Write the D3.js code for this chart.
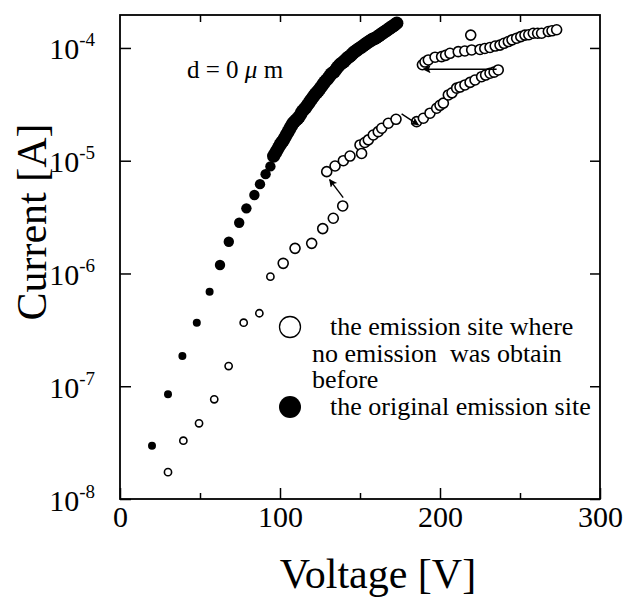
<!DOCTYPE html>
<html>
<head>
<meta charset="utf-8">
<style>
    body { margin: 0; background: #fff; }
    text { font-family: "Liberation Serif", "Times New Roman", serif; fill: #000; }
</style>
</head>
<body>
<script src="https://d3js.org/d3.v7.min.js"></script>
<script>
    const W = 626, H = 598;
    const margin = {left: 120, top: 15, right: 26, bottom: 99};

    // Voltage [V], Current [A]
    const filledSparse = [[20, 2.97e-8], [30, 8.5e-8], [39, 1.85e-7], [48, 3.66e-7], [56, 6.9e-7],
        [62.5, 1.19e-6], [68, 1.91e-6], [74.5, 2.82e-6], [79, 3.78e-6], [84, 4.97e-6],
        [87.5, 6.2e-6], [91, 7.6e-6], [94, 8.9e-6]];
    const filledDense = [[96, 1.10e-5], [98, 1.23e-5], [100, 1.38e-5], [102, 1.51e-5], [104, 1.70e-5],
        [106, 1.91e-5], [108, 2.14e-5], [110, 2.29e-5], [112, 2.45e-5], [114, 2.75e-5],
        [116, 2.95e-5], [118, 3.24e-5], [120, 3.55e-5], [122, 3.89e-5], [124, 4.17e-5],
        [126, 4.57e-5], [128, 5.01e-5], [130, 5.37e-5], [132, 5.89e-5], [134, 6.17e-5],
        [136, 6.76e-5], [138, 7.24e-5], [140, 7.59e-5], [142, 8.13e-5], [144, 8.51e-5],
        [146, 9.12e-5], [148, 9.55e-5], [150, 1.00e-4], [152, 1.05e-4], [154, 1.10e-4],
        [156, 1.15e-4], [158, 1.20e-4], [160, 1.23e-4], [162, 1.29e-4], [164, 1.35e-4],
        [166, 1.41e-4], [168, 1.48e-4], [170, 1.55e-4], [172, 1.62e-4], [173, 1.66e-4]];
    const filledDense2 = [[97, 1.16e-5], [99, 1.30e-5], [101, 1.45e-5], [103, 1.60e-5], [105, 1.80e-5],
        [107, 2.02e-5], [109, 2.22e-5], [111, 2.37e-5], [113, 2.60e-5], [115, 2.85e-5],
        [117, 3.10e-5], [119, 3.40e-5], [121, 3.72e-5], [123, 4.03e-5], [125, 4.37e-5],
        [127, 4.79e-5], [129, 5.19e-5], [131, 5.62e-5], [133, 6.03e-5], [135, 6.46e-5],
        [137, 7.0e-5], [139, 7.41e-5], [141, 7.86e-5], [143, 8.32e-5], [145, 8.8e-5],
        [147, 9.33e-5], [149, 9.77e-5], [151, 1.02e-4], [153, 1.07e-4], [155, 1.12e-4],
        [157, 1.17e-4], [159, 1.21e-4], [161, 1.26e-4], [163, 1.32e-4], [165, 1.38e-4],
        [167, 1.44e-4], [169, 1.51e-4], [171, 1.58e-4]];

    const openLow = [[30, 1.73e-8], [39.6, 3.29e-8], [49.4, 4.69e-8], [58.9, 7.66e-8], [67.9, 1.51e-7],
        [77.3, 3.66e-7], [87.1, 4.44e-7], [94, 9.37e-7], [102, 1.23e-6], [109.4, 1.67e-6],
        [119.8, 1.85e-6], [126.7, 2.5e-6], [133.3, 3.09e-6], [139.2, 3.97e-6]];
    const openJump = [[129.2, 8.0e-6], [134.4, 8.98e-6], [139.6, 1.0e-5], [143.75, 1.10e-5],
        [150, 1.38e-5], [151, 1.16e-5], [153, 1.45e-5], [155.2, 1.53e-5], [158.3, 1.69e-5],
        [161.4, 1.81e-5], [163.6, 1.94e-5], [167.7, 2.15e-5], [172.5, 2.33e-5]];
    const openMid = [[185.4, 2.22e-5], [189.6, 2.38e-5], [193.75, 2.64e-5], [197.9, 2.92e-5],
        [200, 3.1e-5], [202.1, 3.24e-5], [205.2, 3.83e-5], [207.5, 4.0e-5], [210.4, 4.4e-5],
        [212.5, 4.5e-5], [215.6, 4.7e-5], [218.8, 4.95e-5], [221.9, 5.2e-5], [226, 5.56e-5],
        [228.5, 5.75e-5], [231.25, 5.97e-5], [233.8, 6.1e-5], [236.4, 6.38e-5]];
    const openUpper = [[189, 7.1e-5], [190.6, 7.5e-5], [192.7, 7.83e-5], [196.9, 8.28e-5],
        [201, 8.37e-5], [203.5, 8.6e-5], [206.25, 8.97e-5], [211.4, 9.27e-5], [215.5, 9.4e-5],
        [219.8, 9.6e-5], [225, 9.7e-5], [228, 9.9e-5], [231.25, 1.01e-4], [234.5, 1.04e-4],
        [237.5, 1.06e-4], [240, 1.1e-4], [242.7, 1.14e-4], [245, 1.18e-4], [247.9, 1.22e-4],
        [250.5, 1.26e-4], [253.1, 1.30e-4], [255.5, 1.31e-4], [258.3, 1.35e-4], [261, 1.35e-4],
        [263.5, 1.35e-4], [267.7, 1.40e-4], [270, 1.42e-4], [272.9, 1.45e-4], [219.2, 1.30e-4]];

    const arrows = [
        {from: [139.5, 4.7e-6], to: [131, 6.8e-6]},
        {from: [176, 2.6e-5], to: [186.5, 2.08e-5]},
        {from: [235.4, 6.47e-5], to: [189.6, 6.47e-5]}
    ];

    const xMajor = [0, 100, 200, 300];
    const xMinor = [50, 150, 250];
    const yTicks = [1e-8, 1e-7, 1e-6, 1e-5, 1e-4];
    const yExp = ["-8", "-7", "-6", "-5", "-4"];
    const legendOpen = ["the emission site where", "no emission  was obtain", "before"];
    const legendFilled = "the original emission site";

    const svg = d3.select("body").append("svg").attr("width", W).attr("height", H);

    const x = d3.scaleLinear().domain([0, 300]).range([margin.left, W - margin.right]);
    const y = d3.scaleLog().domain([1e-8, 1.96e-4]).range([H - margin.bottom, margin.top]);

    // arrow head
    svg.append("defs").append("marker")
        .attr("id", "head").attr("viewBox", "0 0 10 10")
        .attr("refX", 9).attr("refY", 5)
        .attr("markerWidth", 12).attr("markerHeight", 8)
        .attr("markerUnits", "userSpaceOnUse")
        .attr("orient", "auto")
        .append("path").attr("d", "M0,0 L10,5 L0,10 L2,5 Z").attr("fill", "#000");

    // axes, ticks inward
    const bottom = svg.append("g").attr("transform", `translate(0,${y.range()[0]})`);
    bottom.call(d3.axisBottom(x).tickValues(xMajor).tickSize(-11).tickSizeOuter(0).tickPadding(7));
    bottom.append("g").call(d3.axisBottom(x).tickValues(xMinor).tickSize(-6).tickSizeOuter(0).tickFormat(""));
    svg.append("g").attr("transform", `translate(0,${margin.top})`)
        .call(d3.axisTop(x).tickValues(xMinor.concat([100, 200])).tickSize(-7).tickSizeOuter(0).tickFormat(""));
    const left = svg.append("g").attr("transform", `translate(${margin.left},0)`)
        .call(d3.axisLeft(y).tickValues(yTicks).tickSize(-11).tickSizeOuter(0).tickPadding(25));
    svg.append("g").attr("transform", `translate(${W - margin.right},0)`)
        .call(d3.axisRight(y).tickValues(yTicks).tickSize(-10).tickSizeOuter(0).tickFormat(""));

    svg.selectAll(".domain").remove();
    svg.selectAll(".tick line").attr("stroke", "#000").attr("stroke-width", 1.5);

    bottom.selectAll(".tick text")
        .attr("font-size", 30).attr("font-family", "Liberation Serif").attr("fill", "#000");

    left.selectAll(".tick text").each(function(d, i) {
        const t = d3.select(this).text(null).attr("dy", 11)
            .attr("font-family", "Liberation Serif").attr("fill", "#000");
        t.append("tspan").attr("font-size", 30).text("10");
        t.append("tspan").attr("font-size", 19).attr("dy", -13).text(yExp[i]);
    });

    // frame
    svg.append("rect")
        .attr("x", x(0)).attr("y", y.range()[1])
        .attr("width", x(300) - x(0)).attr("height", y.range()[0] - y.range()[1])
        .attr("fill", "none").attr("stroke", "#000").attr("stroke-width", 1.8);

    // data
    const filled = filledSparse.concat(filledDense, filledDense2);
    svg.append("g").selectAll("circle").data(filled).enter().append("circle")
        .attr("cx", d => x(d[0])).attr("cy", d => y(d[1]))
        .attr("r", d => d[0] < 60 ? 4 : (d[0] < 95 ? 5.2 : 6.6))
        .attr("fill", "#000");

    const open = openLow.concat(openJump, openMid, openUpper);
    svg.append("g").selectAll("circle").data(open).enter().append("circle")
        .attr("cx", d => x(d[0])).attr("cy", d => y(d[1]))
        .attr("r", d => d[0] < 100 ? 3.6 : 5)
        .attr("fill", "#fff").attr("stroke", "#000").attr("stroke-width", 1.6);

    svg.append("g").selectAll("line").data(arrows).enter().append("line")
        .attr("x1", d => x(d.from[0])).attr("y1", d => y(d.from[1]))
        .attr("x2", d => x(d.to[0])).attr("y2", d => y(d.to[1]))
        .attr("stroke", "#000").attr("stroke-width", 1.4)
        .attr("marker-end", "url(#head)");

    // annotation
    const ann = svg.append("text").attr("x", 187).attr("y", 78).attr("font-size", 25);
    ann.append("tspan").text("d = 0 ");
    ann.append("tspan").attr("font-style", "italic").text("\u03bc");
    ann.append("tspan").text(" m");

    // legend
    svg.append("circle").attr("cx", 290).attr("cy", 327).attr("r", 10.5)
        .attr("fill", "#fff").attr("stroke", "#000").attr("stroke-width", 1.3);
    svg.append("circle").attr("cx", 290).attr("cy", 407).attr("r", 11).attr("fill", "#000");
    svg.selectAll(".leg").data(legendOpen).enter().append("text")
        .attr("class", "leg")
        .attr("x", (d, i) => i == 0 ? 330 : 312)
        .attr("y", (d, i) => 335 + i * 26.5)
        .attr("font-size", 26)
        .attr("xml:space", "preserve")
        .style("white-space", "pre")
        .text(d => d);
    svg.append("text").attr("x", 330).attr("y", 415).attr("font-size", 26).text(legendFilled);

    // axis titles
    svg.append("text").attr("x", 378).attr("y", 588).attr("text-anchor", "middle")
        .attr("font-size", 42).text("Voltage [V]");
    svg.append("text").attr("transform", "translate(46,222) rotate(-90)").attr("text-anchor", "middle")
        .attr("font-size", 42).text("Current [A]");
</script>
</body>
</html>
